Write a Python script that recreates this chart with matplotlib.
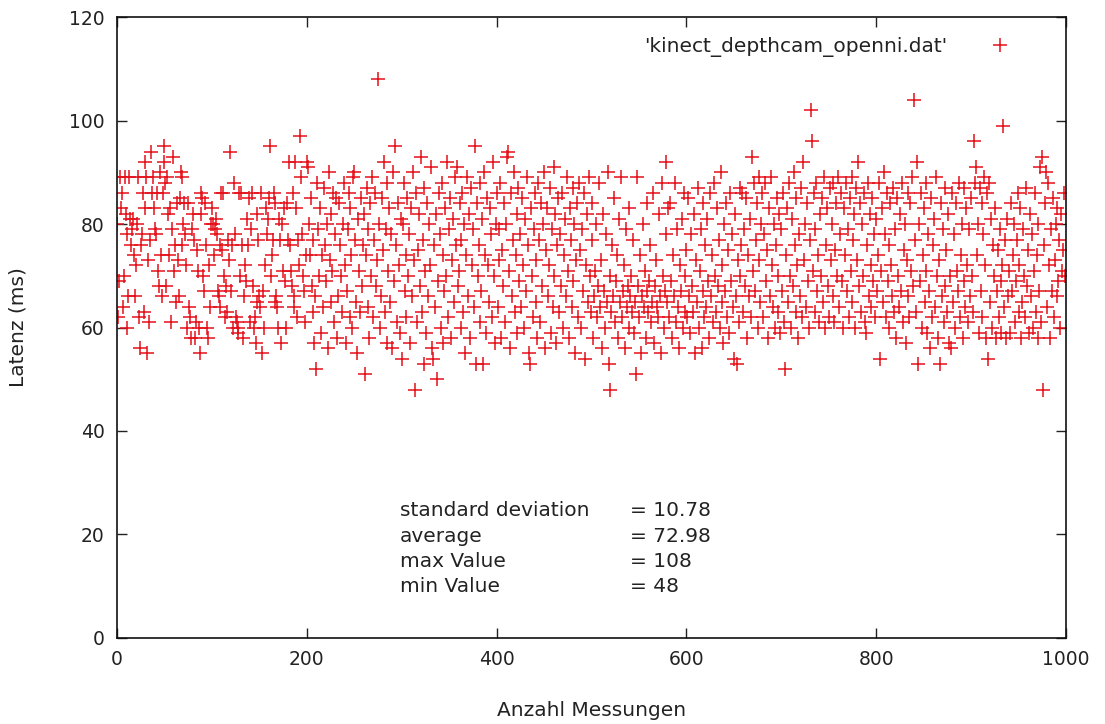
import matplotlib.pyplot as plt
import numpy as np

latency = [
    80, 62, 69, 89, 83, 86, 64, 70, 89, 82, 60, 78, 66, 89, 81, 76, 79, 81, 74, 66,
    72, 80, 89, 62, 56, 76, 78, 86, 63, 92, 83, 89, 55, 73, 61, 77, 94, 86, 89, 83,
    79, 78, 86, 71, 68, 90, 74, 66, 86, 95, 92, 88, 68, 89, 82, 74, 83, 61, 79, 93,
    71, 76, 65, 84, 73, 66, 85, 90, 89, 76, 80, 84, 78, 72, 60, 84, 64, 62, 58, 79,
    82, 77, 58, 61, 75, 71, 60, 55, 86, 82, 85, 70, 67, 84, 76, 60, 58, 72, 64, 80,
    83, 80, 74, 79, 81, 78, 67, 66, 64, 76, 86, 75, 86, 70, 62, 68, 63, 77, 73, 94,
    67, 76, 60, 88, 78, 62, 61, 60, 59, 86, 70, 86, 76, 58, 66, 72, 69, 81, 76, 85,
    61, 79, 86, 68, 60, 62, 57, 65, 82, 77, 66, 64, 86, 55, 67, 60, 72, 83, 78, 81,
    85, 95, 70, 74, 77, 86, 84, 65, 66, 64, 60, 81, 77, 57, 80, 71, 83, 69, 60, 84,
    77, 92, 76, 71, 68, 86, 66, 64, 92, 83, 62, 77, 72, 97, 89, 78, 70, 67, 61, 74,
    92, 91, 80, 74, 85, 68, 63, 77, 57, 66, 52, 88, 79, 70, 83, 59, 74, 64, 87, 76,
    69, 80, 56, 90, 73, 82, 65, 71, 86, 61, 78, 85, 58, 66, 84, 76, 70, 63, 80, 88,
    72, 57, 67, 79, 86, 62, 83, 74, 60, 89, 90, 77, 65, 55, 81, 71, 63, 85, 68, 76,
    82, 51, 74, 87, 64, 79, 58, 84, 70, 89, 62, 77, 86, 68, 73, 108, 80, 60, 66, 85,
    75, 92, 63, 79, 88, 57, 71, 83, 65, 78, 56, 90, 69, 95, 76, 61, 84, 72, 59, 81,
    54, 80, 88, 67, 74, 62, 85, 70, 78, 57, 83, 66, 90, 73, 48, 86, 61, 75, 82, 68,
    93, 63, 77, 53, 87, 71, 59, 84, 66, 80, 72, 91, 56, 54, 76, 64, 82, 50, 69, 86,
    78, 60, 88, 74, 57, 67, 83, 70, 92, 62, 79, 85, 58, 73, 81, 65, 89, 76, 91, 68,
    71, 84, 60, 77, 86, 63, 80, 55, 74, 89, 66, 82, 58, 87, 72, 79, 64, 95, 53, 84,
    70, 76, 61, 88, 67, 81, 53, 90, 74, 59, 85, 72, 65, 83, 78, 62, 92, 70, 57, 80,
    86, 64, 79, 73, 88, 58, 75, 68, 84, 61, 80, 93, 94, 71, 56, 86, 66, 77, 90, 63,
    74, 82, 59, 87, 69, 78, 64, 85, 72, 60, 81, 67, 89, 76, 55, 53, 83, 70, 62, 79,
    86, 65, 73, 58, 88, 77, 61, 84, 68, 80, 90, 56, 75, 83, 66, 72, 87, 59, 79, 64,
    91, 70, 82, 57, 76, 85, 63, 78, 68, 86, 60, 74, 81, 66, 89, 71, 58, 83, 77, 64,
    87, 69, 80, 55, 73, 84, 62, 88, 75, 60, 79, 67, 86, 54, 72, 82, 65, 89, 70, 63,
    77, 84, 58, 66, 71, 80, 62, 68, 88, 64, 73, 56, 82, 67, 60, 78, 65, 90, 53, 70,
    48, 63, 76, 66, 85, 61, 69, 74, 58, 81, 65, 89, 62, 67, 72, 56, 79, 64, 68, 60,
    83, 66, 70, 63, 77, 59, 65, 51, 89, 68, 62, 74, 55, 66, 80, 64, 71, 58, 67, 84,
    63, 69, 76, 61, 65, 86, 57, 68, 73, 64, 62, 82, 66, 55, 88, 70, 60, 67, 78, 92,
    65, 83, 62, 84, 69, 58, 74, 66, 88, 61, 79, 64, 56, 72, 67, 81, 60, 86, 63, 70,
    75, 62, 85, 66, 59, 78, 68, 63, 82, 55, 73, 65, 87, 60, 71, 79, 56, 67, 84, 62,
    76, 64, 81, 69, 58, 86, 66, 74, 61, 88, 70, 63, 83, 68, 77, 60, 90, 65, 72, 57,
    80, 67, 84, 62, 75, 59, 86, 69, 78, 64, 54, 82, 66, 53, 73, 61, 87, 70, 76, 86,
    63, 79, 68, 85, 58, 74, 66, 81, 62, 93, 71, 88, 67, 77, 84, 60, 89, 73, 65, 80,
    86, 62, 78, 88, 69, 75, 58, 83, 66, 89, 72, 64, 80, 60, 76, 85, 63, 70, 82, 59,
    79, 67, 86, 61, 52, 74, 83, 65, 88, 70, 60, 81, 68, 90, 76, 63, 85, 72, 58, 78,
    66, 87, 62, 92, 73, 80, 64, 84, 69, 60, 77, 102, 96, 71, 86, 63, 79, 88, 67, 74,
    61, 82, 70, 85, 65, 89, 60, 76, 83, 68, 62, 87, 73, 80, 66, 88, 61, 75, 84, 70,
    89, 64, 78, 86, 69, 60, 83, 74, 88, 67, 79, 62, 85, 71, 89, 65, 77, 82, 60, 87,
    73, 92, 68, 84, 63, 80, 70, 86, 61, 59, 76, 88, 66, 82, 72, 64, 85, 69, 78, 62,
    81, 67, 74, 88, 54, 71, 83, 65, 90, 78, 62, 86, 69, 76, 60, 84, 72, 66, 87, 63,
    79, 58, 85, 70, 64, 82, 67, 88, 61, 75, 80, 57, 73, 86, 66, 62, 84, 71, 89, 68,
    104, 77, 63, 92, 53, 80, 69, 86, 60, 74, 83, 65, 88, 71, 59, 78, 67, 56, 85, 62,
    76, 81, 64, 89, 70, 58, 73, 53, 84, 66, 79, 61, 87, 68, 75, 63, 82, 57, 70, 56,
    86, 65, 78, 60, 84, 71, 67, 88, 62, 74, 80, 58, 69, 87, 64, 83, 72, 61, 79, 66,
    85, 70, 63, 96, 88, 91, 74, 80, 59, 87, 67, 84, 62, 78, 89, 72, 58, 86, 54, 88,
    65, 81, 60, 76, 70, 83, 58, 67, 75, 62, 79, 59, 69, 72, 99, 64, 77, 58, 81, 66,
    71, 59, 84, 67, 74, 80, 61, 69, 77, 86, 63, 72, 83, 58, 65, 79, 70, 62, 87, 68,
    75, 59, 82, 66, 78, 60, 71, 86, 63, 74, 58, 80, 67, 91, 61, 93, 48, 76, 84, 90,
    64, 88, 72, 58, 79, 67, 85, 62, 73, 80, 66, 83, 69, 77, 60, 82, 71, 75, 86, 70,
]
measurement = np.arange(len(latency))

stat_names = ['standard deviation', 'average', 'max Value', 'min Value']
stat_values = ['= 10.78', '= 72.98', '= 108', '= 48']

red = '#e4101a'
txt = '#222222'

fig = plt.figure(figsize=(11.05, 7.24), dpi=100)
ax = fig.add_axes([0.1059, 0.1188, 0.8588, 0.8577])

ax.plot(measurement, latency, linestyle='none', marker='+', markersize=9.5,
        markeredgewidth=1.1, color=red, label="'kinect_depthcam_openni.dat'")

ax.set_xlim(0, 1000)
ax.set_ylim(0, 120)
ax.set_xticks(range(0, 1001, 200))
ax.set_yticks(range(0, 121, 20))
ax.tick_params(direction='in', length=7, width=1, top=True, right=True,
               labelsize=13.5, colors=txt, pad=9)
for s in ax.spines.values():
    s.set_linewidth(1.2)
    s.set_color('#111111')

ax.set_xlabel('Anzahl Messungen', fontsize=14.5, color=txt, labelpad=23)
ax.set_ylabel('Latenz (ms)', fontsize=14.5, color=txt, labelpad=30)

ax.legend(loc='upper right', frameon=False, markerfirst=False, fontsize=14.5,
          handlelength=2.2, handletextpad=1.5, borderaxespad=0.6,
          labelcolor=txt, bbox_to_anchor=(0.975, 1.0))

for i, (n, v) in enumerate(zip(stat_names, stat_values)):
    y = 0.2045 - i * 0.0403
    ax.text(0.298, y, n, transform=ax.transAxes, fontsize=14.5, color=txt, va='center')
    ax.text(0.5406, y, v, transform=ax.transAxes, fontsize=14.5, color=txt, va='center')

fig.savefig('out.png', dpi=100)
